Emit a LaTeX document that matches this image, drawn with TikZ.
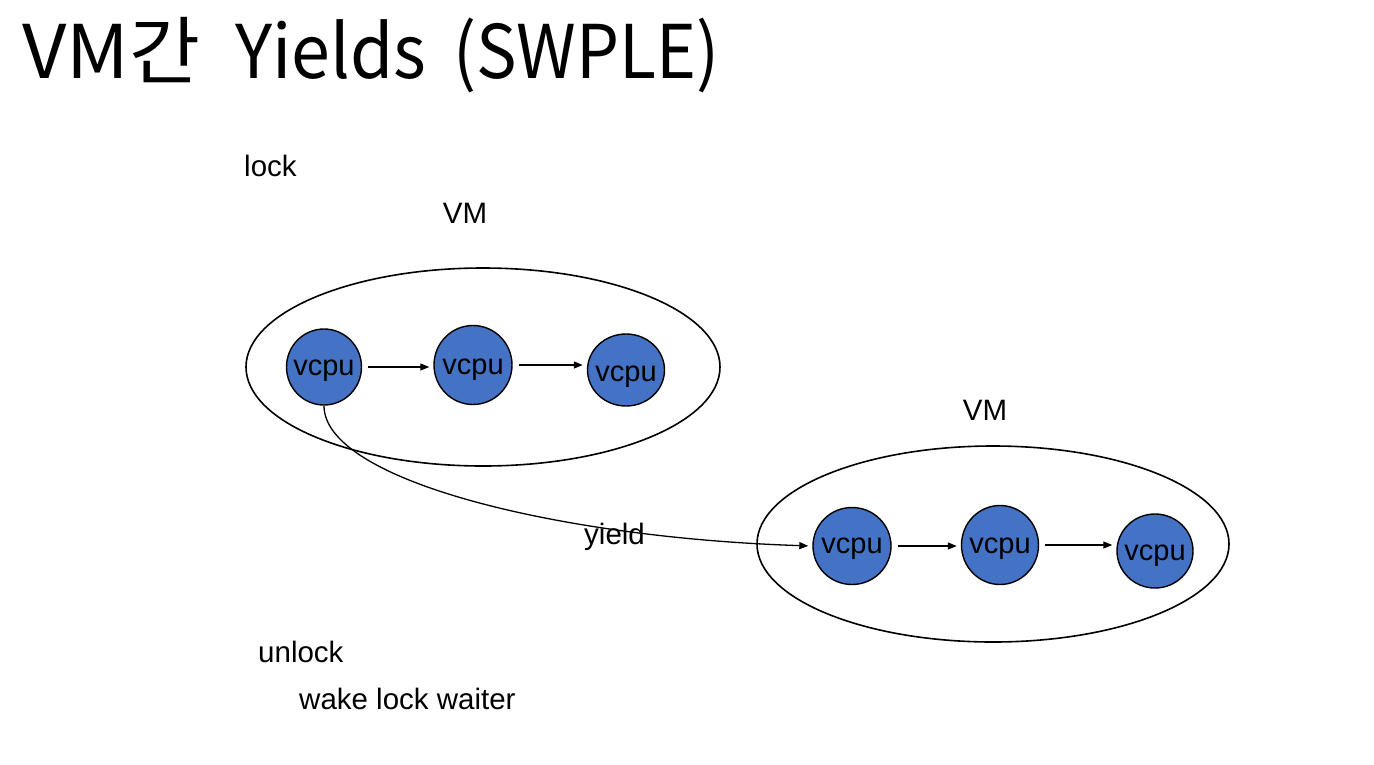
\documentclass[tikz,border=0pt]{standalone}
\usepackage{fontspec}
\setmainfont{Liberation Sans}
\newfontfamily\krfont{Noto Sans CJK KR}
\usetikzlibrary{shapes.geometric,arrows.meta}
\definecolor{cpublue}{HTML}{4472C4}
\tikzset{
  vmshape/.style={draw, ellipse, line width=1.6pt, minimum width=474pt, minimum height=198pt, inner sep=0pt},
  cpu/.style={draw, ellipse, fill=cpublue, line width=1.4pt, inner sep=0pt},
  cputxt/.style={anchor=base, inner sep=0pt, font=\fontsize{29}{30}\selectfont},
  arr/.style={-{Triangle[length=9pt,width=7pt]}, line width=1.3pt},
  lbl/.style={anchor=base west, inner sep=0pt, font=\fontsize{29.5}{32}\selectfont},
  vmlbl/.style={anchor=base, inner sep=0pt, font=\fontsize{29.5}{32}\selectfont}
}
\begin{document}
\begin{tikzpicture}[x=1pt,y=-1pt]
\useasboundingbox (0,0) rectangle (1374,764);
% title
\node[anchor=base west, inner sep=0pt, font=\krfont\fontsize{74}{80}\selectfont] (title) at (22,78)
  {\resizebox{178pt}{\height}{VM간}\hspace{35pt}\resizebox{191pt}{\height}{Yields}\hspace{27pt}\resizebox{266pt}{\height}{(SWPLE)}};
% labels
\node[lbl] (lock) at (244,176) {lock};
\node[vmlbl] (vmlabA) at (465,223) {VM};
\node[vmlbl] (vmlabB) at (985,420) {VM};
\node[lbl] (unlock) at (258,662) {unlock};
\node[lbl] (wake) at (299,709) {wake lock waiter};
% VMs
\node[vmshape] (vmA) at (483,367) {};
\node[vmshape, minimum width=472pt, minimum height=196pt] (vmB) at (993,544) {};
% vcpus
\node[cpu, minimum width=75pt, minimum height=76pt] (c1) at (324,367) {};
\node[cpu, minimum width=78pt, minimum height=79pt] (c2) at (473,365) {};
\node[cpu, minimum width=77pt, minimum height=72pt] (c3) at (626,370) {};
\node[cpu, minimum width=78pt, minimum height=77pt] (d1) at (852,546) {};
\node[cpu, minimum width=77pt, minimum height=79pt] (d2) at (1000,545) {};
\node[cpu, minimum width=76pt, minimum height=74pt] (d3) at (1155,551) {};
\node[cputxt] (t1) at ([yshift=-8pt]c1.center) {vcpu};
\node[cputxt] (t2) at ([yshift=-9pt]c2.center) {vcpu};
\node[cputxt] (t3) at ([yshift=-11pt]c3.center) {vcpu};
\node[cputxt] (t4) at ([yshift=-7pt]d1.center) {vcpu};
\node[cputxt] (t5) at ([yshift=-8pt]d2.center) {vcpu};
\node[cputxt] (t6) at ([yshift=-9pt]d3.center) {vcpu};
% arrows
\draw[arr, shorten <=6pt, shorten >=4pt] (c1.east) -- (c1.east -| c2.west);
\draw[arr, shorten <=6pt, shorten >=4pt] (c2.east) -- (c2.east -| c3.west);
\draw[arr, shorten <=6pt, shorten >=4pt] (d1.east) -- (d1.east -| d2.west);
\draw[arr, shorten <=6pt, shorten >=4pt] (d2.east) -- (d2.east -| d3.west);
\draw[arr, shorten >=4pt] (c1.south) .. controls +(0,75) and (560,538) .. (d1.west);
\node[lbl] (yield) at (584,544) {yield};
\end{tikzpicture}
\end{document}
